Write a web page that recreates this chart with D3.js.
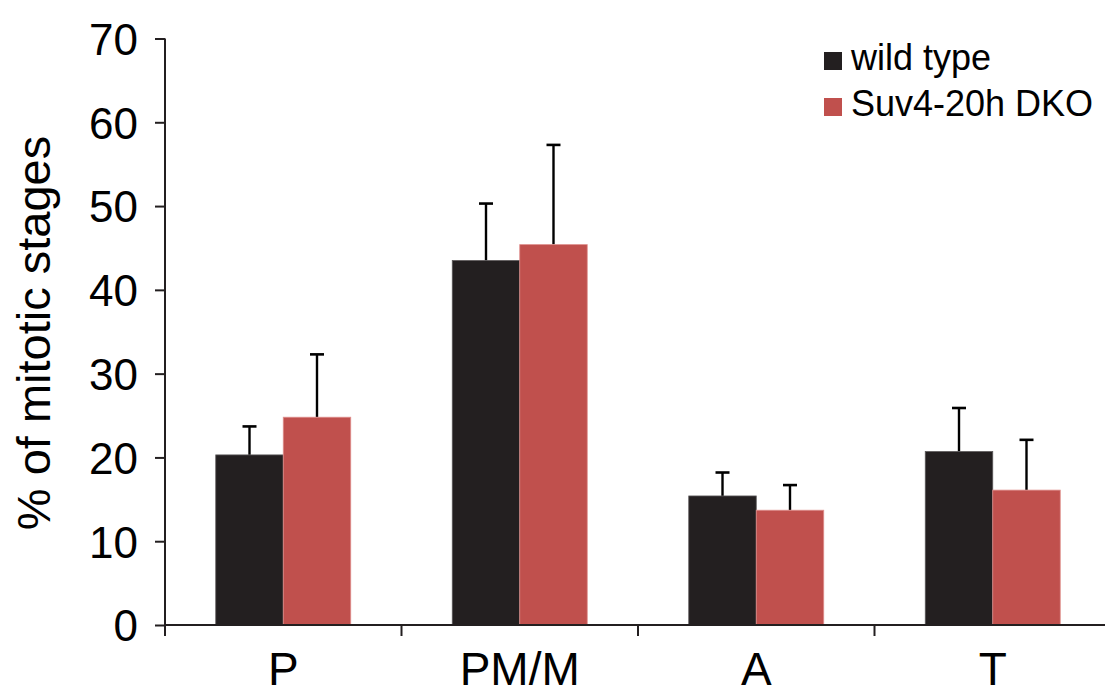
<!DOCTYPE html>
<html>
<head>
<meta charset="utf-8">
<script src="https://cdn.jsdelivr.net/npm/d3@7"></script>
<style>
  html, body { margin: 0; padding: 0; background: #ffffff; }
  svg { display: block; font-family: "Liberation Sans", Arial, Helvetica, sans-serif; }
</style>
</head>
<body>
<svg id="chart" width="1105" height="687"></svg>
<script>
// Mitotic stage distribution: wild type vs Suv4-20h DKO
const stages = ["P", "PM/M", "A", "T"];
const seriesNames = ["wild type", "Suv4-20h DKO"];
const wildType = [20.3, 43.5, 15.4, 20.7];
const wildTypeErr = [3.4, 6.8, 2.8, 5.2];
const dko = [24.8, 45.4, 13.7, 16.1];
const dkoErr = [7.5, 11.9, 3.0, 6.0];
const yTicks = [0, 10, 20, 30, 40, 50, 60, 70];

const colors = ["#231f20", "#c0504d"];
const edgeColors = ["#5b5859", "#df8f8d"];
const axisColor = "#231f20";

const svg = d3.select("#chart");

const x0 = 165, x1 = 1111, yBase = 625, yTop = 38.5;

const x = d3.scaleBand().domain(stages).range([x0, x1]).padding(0);
const xs = d3.scaleBand().domain(seriesNames).range([0, x.bandwidth()])
  .paddingInner(0).paddingOuter(0.752);
const y = d3.scaleLinear().domain([0, 70]).range([yBase, yTop]);

const rows = stages.map((s, i) => ({
  stage: s,
  vals: [
    { name: seriesNames[0], v: wildType[i], e: wildTypeErr[i], k: 0 },
    { name: seriesNames[1], v: dko[i], e: dkoErr[i], k: 1 }
  ]
}));

// Error bars (upper only), drawn beneath the bars
const errG = svg.append("g");
rows.forEach(r => {
  r.vals.forEach(d => {
    const cx = x(r.stage) + xs(d.name) + xs.bandwidth() / 2;
    errG.append("line")
      .attr("x1", cx).attr("x2", cx)
      .attr("y1", y(d.v)).attr("y2", y(d.v + d.e))
      .attr("stroke", "#000").attr("stroke-width", 2.4);
    errG.append("line")
      .attr("x1", cx - 7).attr("x2", cx + 7)
      .attr("y1", y(d.v + d.e)).attr("y2", y(d.v + d.e))
      .attr("stroke", "#000").attr("stroke-width", 2.6);
  });
});

// Bars
const groups = svg.append("g").selectAll("g")
  .data(rows).join("g")
  .attr("transform", d => `translate(${x(d.stage)},0)`);

groups.selectAll("rect")
  .data(d => d.vals).join("rect")
  .attr("x", d => xs(d.name))
  .attr("y", d => y(d.v))
  .attr("width", xs.bandwidth())
  .attr("height", d => yBase - y(d.v))
  .attr("fill", d => colors[d.k])
  .attr("stroke", d => edgeColors[d.k])
  .attr("stroke-width", 0.8);

// Y axis
const yAxis = d3.axisLeft(y).tickValues(yTicks).tickSize(10).tickPadding(17)
  .tickFormat(d3.format("d"));
const yG = svg.append("g").attr("transform", `translate(${x0},0)`).call(yAxis);
yG.select(".domain").remove();
yG.append("line")
  .attr("x1", 0).attr("x2", 0).attr("y1", yTop).attr("y2", yBase + 1)
  .attr("stroke", axisColor).attr("stroke-width", 2);
yG.selectAll(".tick line").attr("stroke", axisColor).attr("stroke-width", 2);
yG.selectAll(".tick text")
  .attr("fill", "#000")
  .style("font-size", "44px")
  .attr("dy", "0.36em");

// X axis
const xG = svg.append("g").attr("transform", `translate(0,${yBase})`);
xG.append("line")
  .attr("x1", x0 - 1).attr("x2", 1105).attr("y1", 0).attr("y2", 0)
  .attr("stroke", axisColor).attr("stroke-width", 2);
xG.selectAll("line.xt")
  .data(stages).join("line")
  .attr("class", "xt")
  .attr("x1", d => x(d)).attr("x2", d => x(d))
  .attr("y1", 0).attr("y2", 11)
  .attr("stroke", axisColor).attr("stroke-width", 2);
xG.selectAll("text")
  .data(stages).join("text")
  .attr("x", d => x(d) + x.bandwidth() / 2)
  .attr("y", 60)
  .attr("text-anchor", "middle")
  .style("font-size", "46px")
  .attr("fill", "#000")
  .text(d => d);

// Y axis title
svg.append("text")
  .attr("transform", "translate(50,333) rotate(-90)")
  .attr("text-anchor", "middle")
  .style("font-size", "47px")
  .attr("fill", "#000")
  .text("% of mitotic stages");

// Legend
const legend = svg.append("g").attr("transform", "translate(824,0)");
seriesNames.forEach((name, i) => {
  const base = 69.5 + i * 46;
  legend.append("rect")
    .attr("x", 0).attr("y", base - 17.5)
    .attr("width", 18).attr("height", 18)
    .attr("fill", colors[i]);
  legend.append("text")
    .attr("x", 27).attr("y", base)
    .style("font-size", "36px")
    .attr("fill", "#000")
    .text(name);
});
</script>
</body>
</html>
